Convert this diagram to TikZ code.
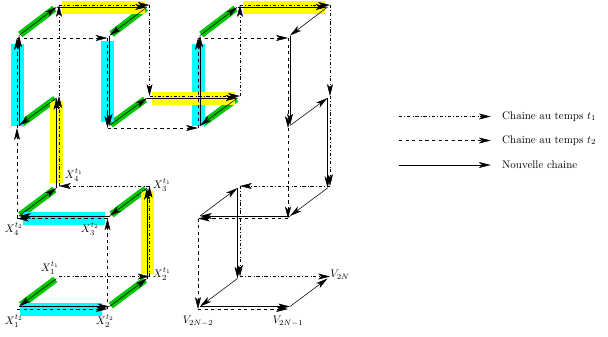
\documentclass[tikz,border=0pt]{standalone}
\usepackage{amsmath,amssymb}
\usetikzlibrary{arrows.meta}
\definecolor{bandgreen}{RGB}{0,200,0}
\definecolor{bandcyan}{RGB}{0,255,255}
\definecolor{bandyellow}{RGB}{255,255,0}
\tikzset{
  >={Stealth[length=3.8mm,width=1.9mm,inset=1mm]},
  chaina/.style={->,dashdotted,line width=.4pt},
  chainb/.style={->,dashed,line width=.4pt},
  chainn/.style={->,line width=.5pt},
  bandc/.style={bandcyan,line width=4.16mm,shorten <=.8mm,shorten >=1.8mm},
  bandy/.style={bandyellow,line width=4.16mm,shorten <=1.6mm,shorten >=.8mm},
  bandg/.style={bandgreen,line width=2.2mm,shorten <=.5mm,shorten >=.8mm}
}
\begin{document}
\begin{tikzpicture}[x=.32mm,y=-.32mm]
    \useasboundingbox (0,0) rectangle (608,336);
    % chaine au temps t1
    \coordinate (a1) at (59,276.5);   \coordinate (a2) at (149.5,276.5);
    \coordinate (a3) at (149.5,186);  \coordinate (a4) at (59,186);
    \coordinate (a5) at (59,96);      \coordinate (a6) at (59,5);
    \coordinate (a7) at (149.5,5);    \coordinate (a8) at (149.5,96);
    \coordinate (a9) at (240,96);     \coordinate (a10) at (240,5);
    \coordinate (a11) at (330,5);     \coordinate (a12) at (330,96);
    \coordinate (a13) at (330,186);   \coordinate (a14) at (240,186);
    \coordinate (a15) at (240,276.5); \coordinate (a16) at (330,276.5);
    % chaine au temps t2
    \coordinate (b1) at (17,309);     \coordinate (b2) at (107.5,309);
    \coordinate (b3) at (107.5,218.5);\coordinate (b4) at (17,218.5);
    \coordinate (b5) at (17,128);     \coordinate (b6) at (17,38);
    \coordinate (b7) at (107.5,38);   \coordinate (b8) at (107.5,128);
    \coordinate (b9) at (198,128);    \coordinate (b10) at (198,38);
    \coordinate (b11) at (288,38);    \coordinate (b12) at (288,128);
    \coordinate (b13) at (288,218.5); \coordinate (b14) at (198,218.5);
    \coordinate (b15) at (198,309);   \coordinate (b16) at (288,309);
    % nouvelle chaine
    \coordinate (na1) at (56.5,278.5); \coordinate (na2) at (147,278.5);
    \coordinate (na3) at (147,188);    \coordinate (na4) at (56.5,188);
    \coordinate (na5) at (56.5,98);    \coordinate (na6) at (56.5,7);
    \coordinate (na7) at (147,7);      \coordinate (na8) at (147,98);
    \coordinate (na9) at (237.5,98);   \coordinate (na10) at (237.5,7);
    \coordinate (na11) at (327.5,7);   \coordinate (na12) at (327.5,98);
    \coordinate (na13) at (327.5,188); \coordinate (na14) at (237.5,188);
    \coordinate (na15) at (237.5,278.5); \coordinate (na16) at (327.5,278.5);
    \coordinate (nb1) at (19,306.5);   \coordinate (nb2) at (109.5,306.5);
    \coordinate (nb3) at (109.5,216);  \coordinate (nb4) at (19,216);
    \coordinate (nb5) at (19,125.5);   \coordinate (nb6) at (19,35.5);
    \coordinate (nb7) at (109.5,35.5); \coordinate (nb8) at (109.5,125.5);
    \coordinate (nb9) at (200,125.5);  \coordinate (nb10) at (200,35.5);
    \coordinate (nb11) at (290,35.5);  \coordinate (nb12) at (290,125.5);
    \coordinate (nb13) at (290,216);   \coordinate (nb14) at (200,216);
    \coordinate (nb15) at (200,306.5); \coordinate (nb16) at (290,306.5);
    % bandes
    \draw[bandg] (na1) -- (nb1);
    \draw[bandg] (nb2) -- (na2);
    \draw[bandg] (na3) -- (nb3);
    \draw[bandg] (nb4) -- (na4);
    \draw[bandg] (na5) -- (nb5);
    \draw[bandg] (nb6) -- (na6);
    \draw[bandg] (na7) -- (nb7);
    \draw[bandg] (nb8) -- (na8);
    \draw[bandg] (na9) -- (nb9);
    \draw[bandg] (nb10) -- (na10);
    \draw[bandc] (b1) -- (b2);
    \draw[bandc] (b3) -- (b4);
    \draw[bandc] (b5) -- (b6);
    \draw[bandc] (b7) -- (b8);
    \draw[bandc] (b9) -- (b10);
    \draw[bandy] (na2) -- (na3);
    \draw[bandy] (na4) -- (na5);
    \draw[bandy] (na6) -- (na7);
    \draw[bandy] (na8) -- (na9);
    \draw[bandy] (na10) -- (na11);
    % chaine t1
    \draw[chaina] (a1) -- (a2);
    \draw[chaina] (a2) -- (a3);
    \draw[chaina] (a3) -- (a4);
    \draw[chaina] (a4) -- (a5);
    \draw[chaina] (a5) -- (a6);
    \draw[chaina] (a6) -- (a7);
    \draw[chaina] (a7) -- (a8);
    \draw[chaina] (a8) -- (a9);
    \draw[chaina] (a9) -- (a10);
    \draw[chaina] (a10) -- (a11);
    \draw[chaina] (a11) -- (a12);
    \draw[chaina] (a12) -- (a13);
    \draw[chaina] (a13) -- (a14);
    \draw[chaina] (a14) -- (a15);
    \draw[chaina] (a15) -- (a16);
    % chaine t2
    \draw[chainb] (b1) -- (b2);
    \draw[chainb] (b2) -- (b3);
    \draw[chainb] (b3) -- (b4);
    \draw[chainb] (b4) -- (b5);
    \draw[chainb] (b5) -- (b6);
    \draw[chainb] (b6) -- (b7);
    \draw[chainb] (b7) -- (b8);
    \draw[chainb] (b8) -- (b9);
    \draw[chainb] (b9) -- (b10);
    \draw[chainb] (b10) -- (b11);
    \draw[chainb] (b11) -- (b12);
    \draw[chainb] (b12) -- (b13);
    \draw[chainb] (b13) -- (b14);
    \draw[chainb] (b14) -- (b15);
    \draw[chainb] (b15) -- (b16);
    % nouvelle chaine
    \draw[chainn] (na1) -- (nb1);
    \draw[chainn] (nb1) -- (nb2);
    \draw[chainn] (nb2) -- (na2);
    \draw[chainn] (na2) -- (na3);
    \draw[chainn] (na3) -- (nb3);
    \draw[chainn] (nb3) -- (nb4);
    \draw[chainn] (nb4) -- (na4);
    \draw[chainn] (na4) -- (na5);
    \draw[chainn] (na5) -- (nb5);
    \draw[chainn] (nb5) -- (nb6);
    \draw[chainn] (nb6) -- (na6);
    \draw[chainn] (na6) -- (na7);
    \draw[chainn] (na7) -- (nb7);
    \draw[chainn] (nb7) -- (nb8);
    \draw[chainn] (nb8) -- (na8);
    \draw[chainn] (na8) -- (na9);
    \draw[chainn] (na9) -- (nb9);
    \draw[chainn] (nb9) -- (nb10);
    \draw[chainn] (nb10) -- (na10);
    \draw[chainn] (na10) -- (na11);
    \draw[chainn] (na11) -- (nb11);
    \draw[chainn] (nb11) -- (nb12);
    \draw[chainn] (nb12) -- (na12);
    \draw[chainn] (na12) -- (na13);
    \draw[chainn] (na13) -- (nb13);
    \draw[chainn] (nb13) -- (nb14);
    \draw[chainn] (nb14) -- (na14);
    \draw[chainn] (na14) -- (na15);
    \draw[chainn] (na15) -- (nb15);
    \draw[chainn] (nb15) -- (nb16);
    \draw[chainn] (nb16) -- (na16);
    % labels
    \node (x1b) at (14,321) {$X_1^{t_2}$};
    \node (x2b) at (105,321) {$X_2^{t_2}$};
    \node (x3b) at (90,229) {$X_3^{t_2}$};
    \node (x4b) at (14,229) {$X_4^{t_2}$};
    \node (x1a) at (50,268) {$X_1^{t_1}$};
    \node (x2a) at (162,274) {$X_2^{t_1}$};
    \node (x3a) at (162,185) {$X_3^{t_1}$};
    \node (x4a) at (74,175) {$X_4^{t_1}$};
    \node (v1) at (198,321) {$V_{2N-2}$};
    \node (v2) at (288,321) {$V_{2N-1}$};
    \node (v3) at (340,275) {$V_{2N}$};
    % legende
    \coordinate (la0) at (399,116.5);
    \coordinate (lb0) at (399,140.5);
    \coordinate (lc0) at (399,165);
    \node[anchor=west,inner sep=0pt] (la) at (502,116.5) {Chaine au temps $t_1$};
    \node[anchor=west,inner sep=0pt] (lb) at (502,140.5) {Chaine au temps $t_2$};
    \node[anchor=west,inner sep=0pt] (lc) at (502,165) {Nouvelle chaine};
    \draw[chaina,shorten >=3.6mm] (la0) -- (la.west);
    \draw[chainb,shorten >=3.6mm] (lb0) -- (lb.west);
    \draw[chainn,shorten >=3.6mm] (lc0) -- (lc.west);
\end{tikzpicture}
\end{document}
